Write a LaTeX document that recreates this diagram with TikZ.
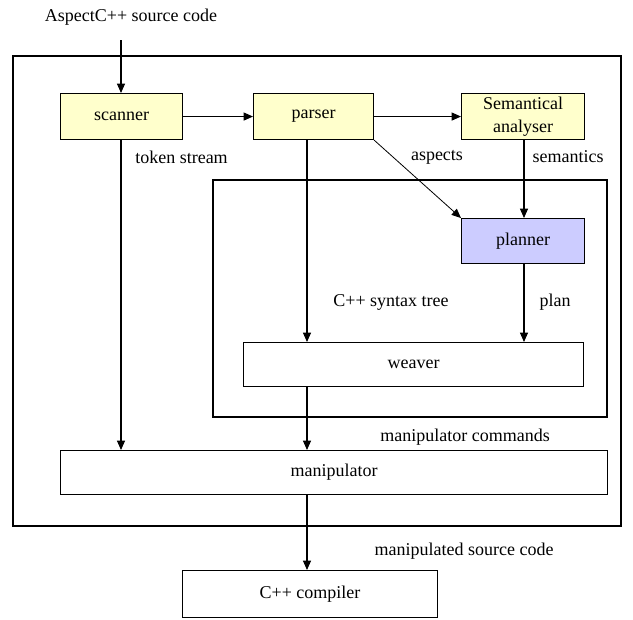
\documentclass[tikz,border=0pt]{standalone}
\usepackage{fontspec}
\setmainfont{Liberation Serif}
\usetikzlibrary{arrows.meta}
\definecolor{yel}{HTML}{FFFFCC}
\definecolor{blu}{HTML}{CCCCFF}
\begin{document}
\begin{tikzpicture}[x=0.75pt,y=-0.75pt,
  every node/.style={font=\fontsize{13.5}{17}\selectfont},
  box/.style={draw,line width=0.8pt,inner sep=0pt,anchor=north west},
  lbl/.style={inner sep=0pt},
  conn/.style={line width=0.8pt,-{Triangle[length=7pt,width=6pt]}},
  plain/.style={line width=0.8pt}]
\useasboundingbox (0,0) rectangle (633,619);
% outer and inner frames
\draw[plain] (13,56) rectangle (621,526);
\draw[plain] (213,180) rectangle (607,417);
% boxes
\node[box,fill=yel,minimum width={122*0.75pt},minimum height={46*0.75pt}] (scan) at (60,93) {};
\node at (scan.center) {scanner};
\node[box,fill=yel,minimum width={120*0.75pt},minimum height={46*0.75pt}] (pars) at (253,93) {};
\node at (pars.center) {parser};
\node[box,fill=yel,minimum width={123*0.75pt},minimum height={46*0.75pt}] (sema) at (461,93) {};
\node[align=center] at (sema.center) {Semantical\\analyser};
\node[box,fill=blu,minimum width={123*0.75pt},minimum height={45*0.75pt}] (plan) at (461,218) {};
\node at (plan.center) {planner};
\node[box,minimum width={340*0.75pt},minimum height={44*0.75pt}] (weav) at (243,342) {};
\node at (weav.center) {weaver};
\node[box,minimum width={547*0.75pt},minimum height={44*0.75pt}] (mani) at (60,450) {};
\node at (mani.center) {manipulator};
\node[box,minimum width={255*0.75pt},minimum height={47*0.75pt}] (comp) at (182,570) {};
\node at (comp.center) {C++ compiler};
% title
\node[lbl] (title) at (131,17) {AspectC++ source code};
\coordinate (src) at (121,40);
% coordinates for vertical connectors
\coordinate (sb) at (121,139);
\coordinate (mt1) at (121,450);
\coordinate (pb) at (307,139);
\coordinate (wt1) at (307,342);
\coordinate (wb) at (307,386);
\coordinate (mt2) at (307,450);
\coordinate (mb) at (307,494);
\coordinate (ct) at (307,570);
\coordinate (sab) at (524,139);
\coordinate (plt) at (524,218);
\coordinate (plb) at (524,263);
\coordinate (wt2) at (524,342);
% connectors
\draw[conn] (src) -- (scan.north -| src);
\draw[conn] (scan.east) -- (pars.west);
\draw[conn] (pars.east) -- (sema.west);
\draw[conn] (sb) -- (mt1);
\draw[conn] (pb) -- (wt1);
\draw[conn] (wb) -- (mt2);
\draw[conn] (mb) -- (ct);
\draw[conn] (sab) -- (plt);
\draw[conn] (plb) -- (wt2);
\draw[conn,line width=0.6pt] (pars.south east) -- (plan.north west);
% labels
\node[lbl,anchor=west] at (135,157) {token stream};
\node[lbl] at (437,157) {aspects};
\node[lbl] at (568,157) {semantics};
\node[lbl] at (391,302) {C++ syntax tree};
\node[lbl] at (555,302) {plan};
\node[lbl] at (465,437) {manipulator commands};
\node[lbl] at (464,551) {manipulated source code};
\end{tikzpicture}
\end{document}
